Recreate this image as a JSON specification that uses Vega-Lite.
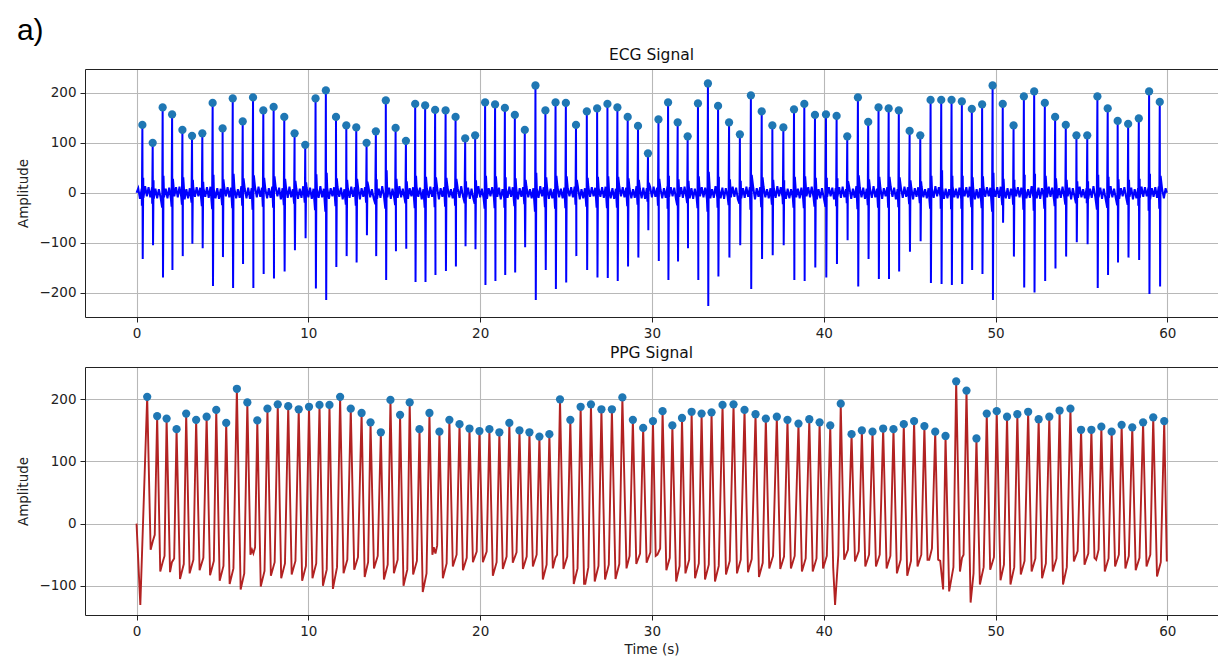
{
"$schema":"https://vega.github.io/schema/vega-lite/v6.json",
"padding":{"left":16,"top":15,"right":0,"bottom":4},
"title":{"text":"a)","anchor":"start","frame":"bounds","font":"Liberation Sans","fontSize":30,"fontWeight":"normal","color":"#000000","offset":2},
"config":{
 "view":{"stroke":null},
 "axis":{"labelFont":"DejaVu Sans","labelFontSize":13.5,"labelColor":"#222222","titleFont":"DejaVu Sans","titleFontSize":13.5,"titleFontWeight":"normal","titleColor":"#222222","tickColor":"#222222","tickSize":5,"tickWidth":1,"domainColor":"#222222","domainWidth":1,"gridColor":"#b8b8b8","gridWidth":1.1,"labelPadding":4},
 "title":{"font":"DejaVu Sans","fontSize":15.5,"fontWeight":"normal","color":"#111111","offset":6}
},
"datasets":{
"ecg":[
{"t":0,"v":0},
{"t":0.31,"v":-26},{"t":0.34,"v":136,"k":1},{"t":0.36,"v":-133},{"t":0.39,"v":30},
{"t":0.91,"v":-22},{"t":0.94,"v":100,"k":1},{"t":0.96,"v":-105},{"t":0.99,"v":25},
{"t":1.49,"v":-30},{"t":1.52,"v":171,"k":1},{"t":1.54,"v":-170},{"t":1.57,"v":34},
{"t":2.04,"v":-28},{"t":2.07,"v":157,"k":1},{"t":2.09,"v":-155},{"t":2.12,"v":28},
{"t":2.64,"v":-24},{"t":2.67,"v":126,"k":1},{"t":2.69,"v":-127},{"t":2.72,"v":31},
{"t":3.2,"v":-20},{"t":3.23,"v":114,"k":1},{"t":3.25,"v":-102},{"t":3.28,"v":26},
{"t":3.8,"v":-27},{"t":3.83,"v":119,"k":1},{"t":3.85,"v":-111},{"t":3.88,"v":22},
{"t":4.4,"v":-33},{"t":4.43,"v":180,"k":1},{"t":4.45,"v":-187},{"t":4.48,"v":36},
{"t":4.98,"v":-25},{"t":5.01,"v":129,"k":1},{"t":5.03,"v":-129},{"t":5.06,"v":27},
{"t":5.57,"v":-31},{"t":5.6,"v":189,"k":1},{"t":5.62,"v":-191},{"t":5.65,"v":38},
{"t":6.15,"v":-26},{"t":6.18,"v":143,"k":1},{"t":6.2,"v":-143},{"t":6.23,"v":29},
{"t":6.75,"v":-34},{"t":6.78,"v":191,"k":1},{"t":6.8,"v":-191},{"t":6.83,"v":35},
{"t":7.35,"v":-28},{"t":7.38,"v":165,"k":1},{"t":7.4,"v":-163},{"t":7.43,"v":30},
{"t":7.95,"v":-30},{"t":7.98,"v":172,"k":1},{"t":8.0,"v":-172},{"t":8.03,"v":33},
{"t":8.57,"v":-25},{"t":8.6,"v":152,"k":1},{"t":8.62,"v":-158},{"t":8.65,"v":28},
{"t":9.17,"v":-22},{"t":9.2,"v":119,"k":1},{"t":9.22,"v":-115},{"t":9.25,"v":24},
{"t":9.79,"v":-20},{"t":9.82,"v":96,"k":1},{"t":9.84,"v":-91},{"t":9.87,"v":21},
{"t":10.39,"v":-35},{"t":10.42,"v":189,"k":1},{"t":10.44,"v":-192},{"t":10.47,"v":37},
{"t":10.99,"v":-38},{"t":11.02,"v":205,"k":1},{"t":11.04,"v":-215},{"t":11.07,"v":40},
{"t":11.58,"v":-27},{"t":11.61,"v":152,"k":1},{"t":11.63,"v":-149},{"t":11.66,"v":29},
{"t":12.18,"v":-24},{"t":12.21,"v":135,"k":1},{"t":12.23,"v":-127},{"t":12.26,"v":26},
{"t":12.76,"v":-26},{"t":12.79,"v":131,"k":1},{"t":12.81,"v":-140},{"t":12.84,"v":28},
{"t":13.36,"v":-20},{"t":13.39,"v":100,"k":1},{"t":13.41,"v":-85},{"t":13.44,"v":22},
{"t":13.9,"v":-23},{"t":13.93,"v":123,"k":1},{"t":13.95,"v":-127},{"t":13.98,"v":27},
{"t":14.48,"v":-32},{"t":14.51,"v":185,"k":1},{"t":14.53,"v":-175},{"t":14.56,"v":45},
{"t":15.05,"v":-25},{"t":15.08,"v":130,"k":1},{"t":15.1,"v":-117},{"t":15.13,"v":28},
{"t":15.65,"v":-21},{"t":15.68,"v":104,"k":1},{"t":15.7,"v":-112},{"t":15.73,"v":23},
{"t":16.19,"v":-31},{"t":16.22,"v":178,"k":1},{"t":16.24,"v":-179},{"t":16.27,"v":34},
{"t":16.77,"v":-30},{"t":16.8,"v":175,"k":1},{"t":16.82,"v":-179},{"t":16.85,"v":32},
{"t":17.35,"v":-29},{"t":17.38,"v":166,"k":1},{"t":17.4,"v":-165},{"t":17.43,"v":31},
{"t":17.96,"v":-28},{"t":17.99,"v":165,"k":1},{"t":18.01,"v":-157},{"t":18.04,"v":30},
{"t":18.54,"v":-26},{"t":18.57,"v":152,"k":1},{"t":18.59,"v":-148},{"t":18.62,"v":28},
{"t":19.1,"v":-21},{"t":19.13,"v":109,"k":1},{"t":19.15,"v":-107},{"t":19.18,"v":23},
{"t":19.68,"v":-22},{"t":19.71,"v":115,"k":1},{"t":19.73,"v":-113},{"t":19.76,"v":25},
{"t":20.26,"v":-32},{"t":20.29,"v":181,"k":1},{"t":20.31,"v":-185},{"t":20.34,"v":34},
{"t":20.84,"v":-31},{"t":20.87,"v":177,"k":1},{"t":20.89,"v":-177},{"t":20.92,"v":33},
{"t":21.41,"v":-30},{"t":21.44,"v":170,"k":1},{"t":21.46,"v":-165},{"t":21.49,"v":31},
{"t":21.99,"v":-27},{"t":22.02,"v":156,"k":1},{"t":22.04,"v":-160},{"t":22.07,"v":29},
{"t":22.57,"v":-23},{"t":22.6,"v":126,"k":1},{"t":22.62,"v":-109},{"t":22.65,"v":26},
{"t":23.19,"v":-38},{"t":23.22,"v":215,"k":1},{"t":23.24,"v":-215},{"t":23.27,"v":40},
{"t":23.77,"v":-29},{"t":23.8,"v":165,"k":1},{"t":23.82,"v":-155},{"t":23.85,"v":31},
{"t":24.36,"v":-32},{"t":24.39,"v":181,"k":1},{"t":24.41,"v":-193},{"t":24.44,"v":34},
{"t":24.96,"v":-31},{"t":24.99,"v":180,"k":1},{"t":25.01,"v":-180},{"t":25.04,"v":33},
{"t":25.55,"v":-24},{"t":25.58,"v":136,"k":1},{"t":25.6,"v":-127},{"t":25.63,"v":26},
{"t":26.18,"v":-28},{"t":26.21,"v":163,"k":1},{"t":26.23,"v":-155},{"t":26.26,"v":30},
{"t":26.78,"v":-30},{"t":26.81,"v":169,"k":1},{"t":26.83,"v":-170},{"t":26.86,"v":32},
{"t":27.38,"v":-31},{"t":27.41,"v":178,"k":1},{"t":27.43,"v":-171},{"t":27.46,"v":33},
{"t":27.96,"v":-30},{"t":27.99,"v":171,"k":1},{"t":28.01,"v":-177},{"t":28.04,"v":32},
{"t":28.56,"v":-27},{"t":28.59,"v":152,"k":1},{"t":28.61,"v":-148},{"t":28.64,"v":29},
{"t":29.16,"v":-24},{"t":29.19,"v":134,"k":1},{"t":29.21,"v":-130},{"t":29.24,"v":26},
{"t":29.74,"v":-18},{"t":29.77,"v":79,"k":1},{"t":29.79,"v":-75},{"t":29.82,"v":20},
{"t":30.35,"v":-26},{"t":30.38,"v":147,"k":1},{"t":30.4,"v":-137},{"t":30.43,"v":28},
{"t":30.91,"v":-32},{"t":30.94,"v":181,"k":1},{"t":30.96,"v":-175},{"t":30.99,"v":34},
{"t":31.47,"v":-25},{"t":31.5,"v":141,"k":1},{"t":31.52,"v":-138},{"t":31.55,"v":27},
{"t":32.05,"v":-21},{"t":32.08,"v":113,"k":1},{"t":32.1,"v":-111},{"t":32.13,"v":24},
{"t":32.65,"v":-31},{"t":32.68,"v":179,"k":1},{"t":32.7,"v":-175},{"t":32.73,"v":33},
{"t":33.23,"v":-38},{"t":33.26,"v":219,"k":1},{"t":33.28,"v":-227},{"t":33.31,"v":42},
{"t":33.82,"v":-30},{"t":33.85,"v":174,"k":1},{"t":33.87,"v":-168},{"t":33.9,"v":32},
{"t":34.46,"v":-25},{"t":34.49,"v":141,"k":1},{"t":34.51,"v":-130},{"t":34.54,"v":27},
{"t":35.09,"v":-22},{"t":35.12,"v":117,"k":1},{"t":35.14,"v":-105},{"t":35.17,"v":24},
{"t":35.73,"v":-34},{"t":35.76,"v":195,"k":1},{"t":35.78,"v":-193},{"t":35.81,"v":36},
{"t":36.36,"v":-29},{"t":36.39,"v":163,"k":1},{"t":36.41,"v":-133},{"t":36.44,"v":31},
{"t":36.98,"v":-24},{"t":37.01,"v":135,"k":1},{"t":37.03,"v":-125},{"t":37.06,"v":26},
{"t":37.62,"v":-23},{"t":37.65,"v":131,"k":1},{"t":37.67,"v":-105},{"t":37.7,"v":25},
{"t":38.24,"v":-30},{"t":38.27,"v":167,"k":1},{"t":38.29,"v":-175},{"t":38.32,"v":32},
{"t":38.84,"v":-31},{"t":38.87,"v":178,"k":1},{"t":38.89,"v":-177},{"t":38.92,"v":33},
{"t":39.46,"v":-28},{"t":39.49,"v":156,"k":1},{"t":39.51,"v":-150},{"t":39.54,"v":30},
{"t":40.1,"v":-28},{"t":40.13,"v":157,"k":1},{"t":40.15,"v":-170},{"t":40.18,"v":30},
{"t":40.72,"v":-27},{"t":40.75,"v":154,"k":1},{"t":40.77,"v":-143},{"t":40.8,"v":29},
{"t":41.34,"v":-21},{"t":41.37,"v":113,"k":1},{"t":41.39,"v":-95},{"t":41.42,"v":23},
{"t":41.96,"v":-33},{"t":41.99,"v":191,"k":1},{"t":42.01,"v":-188},{"t":42.04,"v":35},
{"t":42.56,"v":-25},{"t":42.59,"v":142,"k":1},{"t":42.61,"v":-133},{"t":42.64,"v":27},
{"t":43.16,"v":-30},{"t":43.19,"v":171,"k":1},{"t":43.21,"v":-173},{"t":43.24,"v":32},
{"t":43.75,"v":-30},{"t":43.78,"v":169,"k":1},{"t":43.8,"v":-173},{"t":43.83,"v":32},
{"t":44.34,"v":-29},{"t":44.37,"v":165,"k":1},{"t":44.39,"v":-158},{"t":44.42,"v":31},
{"t":44.97,"v":-23},{"t":45.0,"v":124,"k":1},{"t":45.02,"v":-118},{"t":45.05,"v":25},
{"t":45.59,"v":-21},{"t":45.62,"v":115,"k":1},{"t":45.64,"v":-97},{"t":45.67,"v":23},
{"t":46.19,"v":-32},{"t":46.22,"v":186,"k":1},{"t":46.24,"v":-181},{"t":46.27,"v":34},
{"t":46.81,"v":-32},{"t":46.84,"v":186,"k":1},{"t":46.86,"v":-183},{"t":46.89,"v":45},
{"t":47.41,"v":-33},{"t":47.44,"v":186,"k":1},{"t":47.46,"v":-185},{"t":47.49,"v":34},
{"t":48.01,"v":-32},{"t":48.04,"v":183,"k":1},{"t":48.06,"v":-183},{"t":48.09,"v":34},
{"t":48.59,"v":-29},{"t":48.62,"v":168,"k":1},{"t":48.64,"v":-155},{"t":48.67,"v":31},
{"t":49.19,"v":-31},{"t":49.22,"v":177,"k":1},{"t":49.24,"v":-163},{"t":49.27,"v":33},
{"t":49.8,"v":-38},{"t":49.83,"v":215,"k":1},{"t":49.85,"v":-215},{"t":49.88,"v":40},
{"t":50.39,"v":-25},{"t":50.42,"v":178,"k":1},{"t":50.44,"v":-60},{"t":50.47,"v":28},
{"t":51.02,"v":-24},{"t":51.05,"v":135,"k":1},{"t":51.07,"v":-128},{"t":51.1,"v":26},
{"t":51.62,"v":-34},{"t":51.65,"v":193,"k":1},{"t":51.67,"v":-190},{"t":51.7,"v":36},
{"t":52.22,"v":-36},{"t":52.25,"v":203,"k":1},{"t":52.27,"v":-200},{"t":52.3,"v":38},
{"t":52.84,"v":-32},{"t":52.87,"v":180,"k":1},{"t":52.89,"v":-177},{"t":52.92,"v":34},
{"t":53.44,"v":-27},{"t":53.47,"v":152,"k":1},{"t":53.49,"v":-152},{"t":53.52,"v":29},
{"t":54.06,"v":-24},{"t":54.09,"v":136,"k":1},{"t":54.11,"v":-128},{"t":54.14,"v":26},
{"t":54.68,"v":-21},{"t":54.71,"v":115,"k":1},{"t":54.73,"v":-99},{"t":54.76,"v":23},
{"t":55.31,"v":-21},{"t":55.34,"v":115,"k":1},{"t":55.36,"v":-103},{"t":55.39,"v":23},
{"t":55.9,"v":-34},{"t":55.93,"v":193,"k":1},{"t":55.95,"v":-191},{"t":55.98,"v":36},
{"t":56.5,"v":-30},{"t":56.53,"v":169,"k":1},{"t":56.55,"v":-165},{"t":56.58,"v":32},
{"t":57.08,"v":-25},{"t":57.11,"v":144,"k":1},{"t":57.13,"v":-140},{"t":57.16,"v":27},
{"t":57.69,"v":-24},{"t":57.72,"v":138,"k":1},{"t":57.74,"v":-130},{"t":57.77,"v":26},
{"t":58.31,"v":-26},{"t":58.34,"v":149,"k":1},{"t":58.36,"v":-135},{"t":58.39,"v":28},
{"t":58.91,"v":-36},{"t":58.94,"v":203,"k":1},{"t":58.96,"v":-203},{"t":58.99,"v":38},
{"t":59.53,"v":-32},{"t":59.56,"v":182,"k":1},{"t":59.58,"v":-188},{"t":59.61,"v":34},
{"t":59.97,"v":0},
{"t":0.1,"v":9},{"t":0.2,"v":-12},{"t":0.3,"v":8},{"t":0.4,"v":-10},{"t":0.5,"v":13},{"t":0.6,"v":-7},{"t":0.7,"v":11},{"t":0.8,"v":-9},{"t":0.9,"v":10},{"t":1.0,"v":-12},{"t":1.1,"v":8},{"t":1.2,"v":-11},{"t":1.3,"v":7},{"t":1.4,"v":-10},{"t":1.5,"v":13},{"t":1.6,"v":-9},{"t":1.7,"v":8},{"t":1.8,"v":-11},{"t":1.9,"v":10},{"t":2.0,"v":-12},{"t":2.1,"v":9},{"t":2.2,"v":-7},{"t":2.3,"v":11},{"t":2.4,"v":-9},{"t":2.5,"v":12},{"t":2.6,"v":-8},{"t":2.7,"v":10},{"t":2.8,"v":-13},{"t":2.9,"v":7},{"t":3.0,"v":-11},{"t":3.1,"v":9},{"t":3.2,"v":-10},{"t":3.3,"v":12},{"t":3.4,"v":-8},{"t":3.5,"v":11},{"t":3.6,"v":-7},{"t":3.7,"v":10},{"t":3.8,"v":-13},{"t":3.9,"v":9},{"t":4.0,"v":-8},{"t":4.1,"v":11},{"t":4.2,"v":-10},{"t":4.3,"v":12},{"t":4.4,"v":-9},{"t":4.5,"v":7},{"t":4.6,"v":-11},
{"t":4.7,"v":9},{"t":4.8,"v":-12},{"t":4.9,"v":8},{"t":5.0,"v":-10},{"t":5.1,"v":13},{"t":5.2,"v":-7},{"t":5.3,"v":11},{"t":5.4,"v":-9},{"t":5.5,"v":10},{"t":5.6,"v":-12},{"t":5.7,"v":8},{"t":5.8,"v":-11},{"t":5.9,"v":7},{"t":6.0,"v":-10},{"t":6.1,"v":13},{"t":6.2,"v":-9},{"t":6.3,"v":8},{"t":6.4,"v":-11},{"t":6.5,"v":10},{"t":6.6,"v":-12},{"t":6.7,"v":9},{"t":6.8,"v":-7},{"t":6.9,"v":11},{"t":7.0,"v":-9},{"t":7.1,"v":12},{"t":7.2,"v":-8},{"t":7.3,"v":10},{"t":7.4,"v":-13},{"t":7.5,"v":7},{"t":7.6,"v":-11},{"t":7.7,"v":9},{"t":7.8,"v":-10},{"t":7.9,"v":12},{"t":8.0,"v":-8},{"t":8.1,"v":11},{"t":8.2,"v":-7},{"t":8.3,"v":10},{"t":8.4,"v":-13},{"t":8.5,"v":9},{"t":8.6,"v":-8},{"t":8.7,"v":11},{"t":8.8,"v":-10},{"t":8.9,"v":12},{"t":9.0,"v":-9},{"t":9.1,"v":7},{"t":9.2,"v":-11},
{"t":9.3,"v":9},{"t":9.4,"v":-12},{"t":9.5,"v":8},{"t":9.6,"v":-10},{"t":9.7,"v":13},{"t":9.8,"v":-7},{"t":9.9,"v":11},{"t":10.0,"v":-9},{"t":10.1,"v":10},{"t":10.2,"v":-12},{"t":10.3,"v":8},{"t":10.4,"v":-11},{"t":10.5,"v":7},{"t":10.6,"v":-10},{"t":10.7,"v":13},{"t":10.8,"v":-9},{"t":10.9,"v":8},{"t":11.0,"v":-11},{"t":11.1,"v":10},{"t":11.2,"v":-12},{"t":11.3,"v":9},{"t":11.4,"v":-7},{"t":11.5,"v":11},{"t":11.6,"v":-9},{"t":11.7,"v":12},{"t":11.8,"v":-8},{"t":11.9,"v":10},{"t":12.0,"v":-13},{"t":12.1,"v":7},{"t":12.2,"v":-11},{"t":12.3,"v":9},{"t":12.4,"v":-10},{"t":12.5,"v":12},{"t":12.6,"v":-8},{"t":12.7,"v":11},{"t":12.8,"v":-7},{"t":12.9,"v":10},{"t":13.0,"v":-13},{"t":13.1,"v":9},{"t":13.2,"v":-8},{"t":13.3,"v":11},{"t":13.4,"v":-10},{"t":13.5,"v":12},{"t":13.6,"v":-9},{"t":13.7,"v":7},{"t":13.8,"v":-11},
{"t":13.9,"v":9},{"t":14.0,"v":-12},{"t":14.1,"v":8},{"t":14.2,"v":-10},{"t":14.3,"v":13},{"t":14.4,"v":-7},{"t":14.5,"v":11},{"t":14.6,"v":-9},{"t":14.7,"v":10},{"t":14.8,"v":-12},{"t":14.9,"v":8},{"t":15.0,"v":-11},{"t":15.1,"v":7},{"t":15.2,"v":-10},{"t":15.3,"v":13},{"t":15.4,"v":-9},{"t":15.5,"v":8},{"t":15.6,"v":-11},{"t":15.7,"v":10},{"t":15.8,"v":-12},{"t":15.9,"v":9},{"t":16.0,"v":-7},{"t":16.1,"v":11},{"t":16.2,"v":-9},{"t":16.3,"v":12},{"t":16.4,"v":-8},{"t":16.5,"v":10},{"t":16.6,"v":-13},{"t":16.7,"v":7},{"t":16.8,"v":-11},{"t":16.9,"v":9},{"t":17.0,"v":-10},{"t":17.1,"v":12},{"t":17.2,"v":-8},{"t":17.3,"v":11},{"t":17.4,"v":-7},{"t":17.5,"v":10},{"t":17.6,"v":-13},{"t":17.7,"v":9},{"t":17.8,"v":-8},{"t":17.9,"v":11},{"t":18.0,"v":-10},{"t":18.1,"v":12},{"t":18.2,"v":-9},{"t":18.3,"v":7},{"t":18.4,"v":-11},
{"t":18.5,"v":9},{"t":18.6,"v":-12},{"t":18.7,"v":8},{"t":18.8,"v":-10},{"t":18.9,"v":13},{"t":19.0,"v":-7},{"t":19.1,"v":11},{"t":19.2,"v":-9},{"t":19.3,"v":10},{"t":19.4,"v":-12},{"t":19.5,"v":8},{"t":19.6,"v":-11},{"t":19.7,"v":7},{"t":19.8,"v":-10},{"t":19.9,"v":13},{"t":20.0,"v":-9},{"t":20.1,"v":8},{"t":20.2,"v":-11},{"t":20.3,"v":10},{"t":20.4,"v":-12},{"t":20.5,"v":9},{"t":20.6,"v":-7},{"t":20.7,"v":11},{"t":20.8,"v":-9},{"t":20.9,"v":12},{"t":21.0,"v":-8},{"t":21.1,"v":10},{"t":21.2,"v":-13},{"t":21.3,"v":7},{"t":21.4,"v":-11},{"t":21.5,"v":9},{"t":21.6,"v":-10},{"t":21.7,"v":12},{"t":21.8,"v":-8},{"t":21.9,"v":11},{"t":22.0,"v":-7},{"t":22.1,"v":10},{"t":22.2,"v":-13},{"t":22.3,"v":9},{"t":22.4,"v":-8},{"t":22.5,"v":11},{"t":22.6,"v":-10},{"t":22.7,"v":12},{"t":22.8,"v":-9},{"t":22.9,"v":7},{"t":23.0,"v":-11},
{"t":23.1,"v":9},{"t":23.2,"v":-12},{"t":23.3,"v":8},{"t":23.4,"v":-10},{"t":23.5,"v":13},{"t":23.6,"v":-7},{"t":23.7,"v":11},{"t":23.8,"v":-9},{"t":23.9,"v":10},{"t":24.0,"v":-12},{"t":24.1,"v":8},{"t":24.2,"v":-11},{"t":24.3,"v":7},{"t":24.4,"v":-10},{"t":24.5,"v":13},{"t":24.6,"v":-9},{"t":24.7,"v":8},{"t":24.8,"v":-11},{"t":24.9,"v":10},{"t":25.0,"v":-12},{"t":25.1,"v":9},{"t":25.2,"v":-7},{"t":25.3,"v":11},{"t":25.4,"v":-9},{"t":25.5,"v":12},{"t":25.6,"v":-8},{"t":25.7,"v":10},{"t":25.8,"v":-13},{"t":25.9,"v":7},{"t":26.0,"v":-11},{"t":26.1,"v":9},{"t":26.2,"v":-10},{"t":26.3,"v":12},{"t":26.4,"v":-8},{"t":26.5,"v":11},{"t":26.6,"v":-7},{"t":26.7,"v":10},{"t":26.8,"v":-13},{"t":26.9,"v":9},{"t":27.0,"v":-8},{"t":27.1,"v":11},{"t":27.2,"v":-10},{"t":27.3,"v":12},{"t":27.4,"v":-9},{"t":27.5,"v":7},{"t":27.6,"v":-11},
{"t":27.7,"v":9},{"t":27.8,"v":-12},{"t":27.9,"v":8},{"t":28.0,"v":-10},{"t":28.1,"v":13},{"t":28.2,"v":-7},{"t":28.3,"v":11},{"t":28.4,"v":-9},{"t":28.5,"v":10},{"t":28.6,"v":-12},{"t":28.7,"v":8},{"t":28.8,"v":-11},{"t":28.9,"v":7},{"t":29.0,"v":-10},{"t":29.1,"v":13},{"t":29.2,"v":-9},{"t":29.3,"v":8},{"t":29.4,"v":-11},{"t":29.5,"v":10},{"t":29.6,"v":-12},{"t":29.7,"v":9},{"t":29.8,"v":-7},{"t":29.9,"v":11},{"t":30.0,"v":-9},{"t":30.1,"v":12},{"t":30.2,"v":-8},{"t":30.3,"v":10},{"t":30.4,"v":-13},{"t":30.5,"v":7},{"t":30.6,"v":-11},{"t":30.7,"v":9},{"t":30.8,"v":-10},{"t":30.9,"v":12},{"t":31.0,"v":-8},{"t":31.1,"v":11},{"t":31.2,"v":-7},{"t":31.3,"v":10},{"t":31.4,"v":-13},{"t":31.5,"v":9},{"t":31.6,"v":-8},{"t":31.7,"v":11},{"t":31.8,"v":-10},{"t":31.9,"v":12},{"t":32.0,"v":-9},{"t":32.1,"v":7},{"t":32.2,"v":-11},
{"t":32.3,"v":9},{"t":32.4,"v":-12},{"t":32.5,"v":8},{"t":32.6,"v":-10},{"t":32.7,"v":13},{"t":32.8,"v":-7},{"t":32.9,"v":11},{"t":33.0,"v":-9},{"t":33.1,"v":10},{"t":33.2,"v":-12},{"t":33.3,"v":8},{"t":33.4,"v":-11},{"t":33.5,"v":7},{"t":33.6,"v":-10},{"t":33.7,"v":13},{"t":33.8,"v":-9},{"t":33.9,"v":8},{"t":34.0,"v":-11},{"t":34.1,"v":10},{"t":34.2,"v":-12},{"t":34.3,"v":9},{"t":34.4,"v":-7},{"t":34.5,"v":11},{"t":34.6,"v":-9},{"t":34.7,"v":12},{"t":34.8,"v":-8},{"t":34.9,"v":10},{"t":35.0,"v":-13},{"t":35.1,"v":7},{"t":35.2,"v":-11},{"t":35.3,"v":9},{"t":35.4,"v":-10},{"t":35.5,"v":12},{"t":35.6,"v":-8},{"t":35.7,"v":11},{"t":35.8,"v":-7},{"t":35.9,"v":10},{"t":36.0,"v":-13},{"t":36.1,"v":9},{"t":36.2,"v":-8},{"t":36.3,"v":11},{"t":36.4,"v":-10},{"t":36.5,"v":12},{"t":36.6,"v":-9},{"t":36.7,"v":7},{"t":36.8,"v":-11},
{"t":36.9,"v":9},{"t":37.0,"v":-12},{"t":37.1,"v":8},{"t":37.2,"v":-10},{"t":37.3,"v":13},{"t":37.4,"v":-7},{"t":37.5,"v":11},{"t":37.6,"v":-9},{"t":37.7,"v":10},{"t":37.8,"v":-12},{"t":37.9,"v":8},{"t":38.0,"v":-11},{"t":38.1,"v":7},{"t":38.2,"v":-10},{"t":38.3,"v":13},{"t":38.4,"v":-9},{"t":38.5,"v":8},{"t":38.6,"v":-11},{"t":38.7,"v":10},{"t":38.8,"v":-12},{"t":38.9,"v":9},{"t":39.0,"v":-7},{"t":39.1,"v":11},{"t":39.2,"v":-9},{"t":39.3,"v":12},{"t":39.4,"v":-8},{"t":39.5,"v":10},{"t":39.6,"v":-13},{"t":39.7,"v":7},{"t":39.8,"v":-11},{"t":39.9,"v":9},{"t":40.0,"v":-10},{"t":40.1,"v":12},{"t":40.2,"v":-8},{"t":40.3,"v":11},{"t":40.4,"v":-7},{"t":40.5,"v":10},{"t":40.6,"v":-13},{"t":40.7,"v":9},{"t":40.8,"v":-8},{"t":40.9,"v":11},{"t":41.0,"v":-10},{"t":41.1,"v":12},{"t":41.2,"v":-9},{"t":41.3,"v":7},{"t":41.4,"v":-11},
{"t":41.5,"v":9},{"t":41.6,"v":-12},{"t":41.7,"v":8},{"t":41.8,"v":-10},{"t":41.9,"v":13},{"t":42.0,"v":-7},{"t":42.1,"v":11},{"t":42.2,"v":-9},{"t":42.3,"v":10},{"t":42.4,"v":-12},{"t":42.5,"v":8},{"t":42.6,"v":-11},{"t":42.7,"v":7},{"t":42.8,"v":-10},{"t":42.9,"v":13},{"t":43.0,"v":-9},{"t":43.1,"v":8},{"t":43.2,"v":-11},{"t":43.3,"v":10},{"t":43.4,"v":-12},{"t":43.5,"v":9},{"t":43.6,"v":-7},{"t":43.7,"v":11},{"t":43.8,"v":-9},{"t":43.9,"v":12},{"t":44.0,"v":-8},{"t":44.1,"v":10},{"t":44.2,"v":-13},{"t":44.3,"v":7},{"t":44.4,"v":-11},{"t":44.5,"v":9},{"t":44.6,"v":-10},{"t":44.7,"v":12},{"t":44.8,"v":-8},{"t":44.9,"v":11},{"t":45.0,"v":-7},{"t":45.1,"v":10},{"t":45.2,"v":-13},{"t":45.3,"v":9},{"t":45.4,"v":-8},{"t":45.5,"v":11},{"t":45.6,"v":-10},{"t":45.7,"v":12},{"t":45.8,"v":-9},{"t":45.9,"v":7},{"t":46.0,"v":-11},
{"t":46.1,"v":9},{"t":46.2,"v":-12},{"t":46.3,"v":8},{"t":46.4,"v":-10},{"t":46.5,"v":13},{"t":46.6,"v":-7},{"t":46.7,"v":11},{"t":46.8,"v":-9},{"t":46.9,"v":10},{"t":47.0,"v":-12},{"t":47.1,"v":8},{"t":47.2,"v":-11},{"t":47.3,"v":7},{"t":47.4,"v":-10},{"t":47.5,"v":13},{"t":47.6,"v":-9},{"t":47.7,"v":8},{"t":47.8,"v":-11},{"t":47.9,"v":10},{"t":48.0,"v":-12},{"t":48.1,"v":9},{"t":48.2,"v":-7},{"t":48.3,"v":11},{"t":48.4,"v":-9},{"t":48.5,"v":12},{"t":48.6,"v":-8},{"t":48.7,"v":10},{"t":48.8,"v":-13},{"t":48.9,"v":7},{"t":49.0,"v":-11},{"t":49.1,"v":9},{"t":49.2,"v":-10},{"t":49.3,"v":12},{"t":49.4,"v":-8},{"t":49.5,"v":11},{"t":49.6,"v":-7},{"t":49.7,"v":10},{"t":49.8,"v":-13},{"t":49.9,"v":9},{"t":50.0,"v":-8},{"t":50.1,"v":11},{"t":50.2,"v":-10},{"t":50.3,"v":12},{"t":50.4,"v":-9},{"t":50.5,"v":7},{"t":50.6,"v":-11},
{"t":50.7,"v":9},{"t":50.8,"v":-12},{"t":50.9,"v":8},{"t":51.0,"v":-10},{"t":51.1,"v":13},{"t":51.2,"v":-7},{"t":51.3,"v":11},{"t":51.4,"v":-9},{"t":51.5,"v":10},{"t":51.6,"v":-12},{"t":51.7,"v":8},{"t":51.8,"v":-11},{"t":51.9,"v":7},{"t":52.0,"v":-10},{"t":52.1,"v":13},{"t":52.2,"v":-9},{"t":52.3,"v":8},{"t":52.4,"v":-11},{"t":52.5,"v":10},{"t":52.6,"v":-12},{"t":52.7,"v":9},{"t":52.8,"v":-7},{"t":52.9,"v":11},{"t":53.0,"v":-9},{"t":53.1,"v":12},{"t":53.2,"v":-8},{"t":53.3,"v":10},{"t":53.4,"v":-13},{"t":53.5,"v":7},{"t":53.6,"v":-11},{"t":53.7,"v":9},{"t":53.8,"v":-10},{"t":53.9,"v":12},{"t":54.0,"v":-8},{"t":54.1,"v":11},{"t":54.2,"v":-7},{"t":54.3,"v":10},{"t":54.4,"v":-13},{"t":54.5,"v":9},{"t":54.6,"v":-8},{"t":54.7,"v":11},{"t":54.8,"v":-10},{"t":54.9,"v":12},{"t":55.0,"v":-9},{"t":55.1,"v":7},{"t":55.2,"v":-11},
{"t":55.3,"v":9},{"t":55.4,"v":-12},{"t":55.5,"v":8},{"t":55.6,"v":-10},{"t":55.7,"v":13},{"t":55.8,"v":-7},{"t":55.9,"v":11},{"t":56.0,"v":-9},{"t":56.1,"v":10},{"t":56.2,"v":-12},{"t":56.3,"v":8},{"t":56.4,"v":-11},{"t":56.5,"v":7},{"t":56.6,"v":-10},{"t":56.7,"v":13},{"t":56.8,"v":-9},{"t":56.9,"v":8},{"t":57.0,"v":-11},{"t":57.1,"v":10},{"t":57.2,"v":-12},{"t":57.3,"v":9},{"t":57.4,"v":-7},{"t":57.5,"v":11},{"t":57.6,"v":-9},{"t":57.7,"v":12},{"t":57.8,"v":-8},{"t":57.9,"v":10},{"t":58.0,"v":-13},{"t":58.1,"v":7},{"t":58.2,"v":-11},{"t":58.3,"v":9},{"t":58.4,"v":-10},{"t":58.5,"v":12},{"t":58.6,"v":-8},{"t":58.7,"v":11},{"t":58.8,"v":-7},{"t":58.9,"v":10},{"t":59.0,"v":-13},{"t":59.1,"v":9},{"t":59.2,"v":-8},{"t":59.3,"v":11},{"t":59.4,"v":-10},{"t":59.5,"v":12},{"t":59.6,"v":-9},{"t":59.7,"v":7},{"t":59.8,"v":-11},{"t":59.9,"v":9}
],
"ppg":[
{"t":0,"v":0},{"t":0.22,"v":-131},
{"t":0.62,"v":204,"k":1},{"t":0.82,"v":-42},{"t":0.95,"v":-28},{"t":1.06,"v":-18},
{"t":1.2,"v":173,"k":1},{"t":1.38,"v":-77},{"t":1.52,"v":-62},{"t":1.63,"v":-52},
{"t":1.75,"v":169,"k":1},{"t":1.95,"v":-78},{"t":2.06,"v":-62},{"t":2.19,"v":-56},
{"t":2.33,"v":152,"k":1},{"t":2.53,"v":-89},{"t":2.75,"v":-65},
{"t":2.89,"v":177,"k":1},{"t":3.09,"v":-80},{"t":3.31,"v":-58},
{"t":3.47,"v":167,"k":1},{"t":3.67,"v":-75},{"t":3.89,"v":-55},
{"t":4.08,"v":172,"k":1},{"t":4.28,"v":-83},{"t":4.5,"v":-60},
{"t":4.64,"v":183,"k":1},{"t":4.84,"v":-92},{"t":5.06,"v":-68},
{"t":5.22,"v":162,"k":1},{"t":5.42,"v":-97},{"t":5.64,"v":-72},
{"t":5.84,"v":217,"k":1},{"t":6.06,"v":-106},{"t":6.27,"v":-80},
{"t":6.45,"v":195,"k":1},{"t":6.63,"v":-50},{"t":6.72,"v":-42},{"t":6.8,"v":-48},{"t":6.9,"v":-38},
{"t":7.03,"v":166,"k":1},{"t":7.23,"v":-101},{"t":7.45,"v":-76},
{"t":7.62,"v":185,"k":1},{"t":7.82,"v":-84},{"t":8.04,"v":-62},
{"t":8.22,"v":192,"k":1},{"t":8.42,"v":-88},{"t":8.64,"v":-64},
{"t":8.83,"v":189,"k":1},{"t":9.03,"v":-82},{"t":9.25,"v":-60},
{"t":9.44,"v":184,"k":1},{"t":9.64,"v":-92},{"t":9.86,"v":-68},
{"t":10.04,"v":188,"k":1},{"t":10.24,"v":-88},{"t":10.46,"v":-64},
{"t":10.65,"v":191,"k":1},{"t":10.85,"v":-100},{"t":11.07,"v":-74},
{"t":11.23,"v":191,"k":1},{"t":11.43,"v":-105},{"t":11.67,"v":-70},
{"t":11.85,"v":204,"k":1},{"t":12.05,"v":-80},{"t":12.27,"v":-58},
{"t":12.47,"v":185,"k":1},{"t":12.67,"v":-74},{"t":12.89,"v":-54},
{"t":13.1,"v":178,"k":1},{"t":13.28,"v":-86},{"t":13.48,"v":-62},
{"t":13.62,"v":163,"k":1},{"t":13.82,"v":-72},{"t":14.04,"v":-52},
{"t":14.22,"v":147,"k":1},{"t":14.4,"v":-90},{"t":14.62,"v":-66},
{"t":14.78,"v":199,"k":1},{"t":14.98,"v":-80},{"t":15.2,"v":-58},
{"t":15.34,"v":175,"k":1},{"t":15.54,"v":-100},{"t":15.76,"v":-74},
{"t":15.9,"v":195,"k":1},{"t":16.1,"v":-82},{"t":16.32,"v":-60},
{"t":16.47,"v":152,"k":1},{"t":16.66,"v":-110},{"t":16.88,"v":-80},
{"t":17.05,"v":178,"k":1},{"t":17.22,"v":-50},{"t":17.3,"v":-38},{"t":17.4,"v":-48},{"t":17.5,"v":-35},
{"t":17.63,"v":148,"k":1},{"t":17.83,"v":-88},{"t":18.05,"v":-64},
{"t":18.21,"v":167,"k":1},{"t":18.41,"v":-69},{"t":18.63,"v":-50},
{"t":18.8,"v":160,"k":1},{"t":19.0,"v":-75},{"t":19.22,"v":-55},
{"t":19.38,"v":153,"k":1},{"t":19.58,"v":-62},{"t":19.8,"v":-45},
{"t":19.96,"v":149,"k":1},{"t":20.16,"v":-62},{"t":20.38,"v":-45},
{"t":20.54,"v":152,"k":1},{"t":20.74,"v":-84},{"t":20.96,"v":-62},
{"t":21.12,"v":147,"k":1},{"t":21.32,"v":-73},{"t":21.54,"v":-53},
{"t":21.7,"v":162,"k":1},{"t":21.9,"v":-63},{"t":22.12,"v":-46},
{"t":22.29,"v":150,"k":1},{"t":22.49,"v":-73},{"t":22.71,"v":-53},
{"t":22.87,"v":147,"k":1},{"t":23.07,"v":-69},{"t":23.29,"v":-50},
{"t":23.45,"v":140,"k":1},{"t":23.65,"v":-90},{"t":23.87,"v":-66},
{"t":24.03,"v":144,"k":1},{"t":24.23,"v":-72},{"t":24.38,"v":-55},{"t":24.48,"v":-50},
{"t":24.65,"v":200,"k":1},{"t":24.85,"v":-73},{"t":25.07,"v":-53},
{"t":25.25,"v":167,"k":1},{"t":25.45,"v":-97},{"t":25.67,"v":-72},
{"t":25.85,"v":188,"k":1},{"t":26.05,"v":-97},{"t":26.12,"v":-97},{"t":26.3,"v":-70},
{"t":26.45,"v":192,"k":1},{"t":26.67,"v":-93},{"t":26.89,"v":-68},
{"t":27.06,"v":184,"k":1},{"t":27.27,"v":-90},{"t":27.49,"v":-66},
{"t":27.67,"v":184,"k":1},{"t":27.88,"v":-89},{"t":28.1,"v":-65},
{"t":28.28,"v":203,"k":1},{"t":28.52,"v":-72},{"t":28.7,"v":-52},
{"t":28.89,"v":167,"k":1},{"t":29.09,"v":-65},{"t":29.31,"v":-48},
{"t":29.49,"v":154,"k":1},{"t":29.69,"v":-63},{"t":29.91,"v":-46},
{"t":30.06,"v":165,"k":1},{"t":30.22,"v":-52},{"t":30.32,"v":-50},{"t":30.48,"v":-40},
{"t":30.62,"v":181,"k":1},{"t":30.84,"v":-75},{"t":31.04,"v":-55},
{"t":31.19,"v":158,"k":1},{"t":31.41,"v":-93},{"t":31.61,"v":-68},
{"t":31.75,"v":170,"k":1},{"t":31.95,"v":-80},{"t":32.17,"v":-58},
{"t":32.31,"v":180,"k":1},{"t":32.51,"v":-88},{"t":32.73,"v":-64},
{"t":32.89,"v":177,"k":1},{"t":33.09,"v":-90},{"t":33.31,"v":-66},
{"t":33.47,"v":179,"k":1},{"t":33.67,"v":-93},{"t":33.89,"v":-68},
{"t":34.11,"v":191,"k":1},{"t":34.31,"v":-82},{"t":34.53,"v":-60},
{"t":34.75,"v":192,"k":1},{"t":34.95,"v":-80},{"t":35.17,"v":-58},
{"t":35.39,"v":183,"k":1},{"t":35.59,"v":-78},{"t":35.81,"v":-57},
{"t":36.03,"v":176,"k":1},{"t":36.23,"v":-86},{"t":36.45,"v":-63},
{"t":36.63,"v":169,"k":1},{"t":36.83,"v":-72},{"t":37.05,"v":-52},
{"t":37.27,"v":172,"k":1},{"t":37.47,"v":-73},{"t":37.69,"v":-53},
{"t":37.89,"v":167,"k":1},{"t":38.09,"v":-72},{"t":38.31,"v":-52},
{"t":38.53,"v":161,"k":1},{"t":38.73,"v":-77},{"t":38.95,"v":-56},
{"t":39.16,"v":168,"k":1},{"t":39.36,"v":-77},{"t":39.58,"v":-56},
{"t":39.76,"v":163,"k":1},{"t":39.96,"v":-72},{"t":40.18,"v":-52},
{"t":40.38,"v":158,"k":1},{"t":40.55,"v":-70},{"t":40.66,"v":-131},{"t":40.85,"v":-50},
{"t":40.99,"v":193,"k":1},{"t":41.19,"v":-58},{"t":41.41,"v":-42},
{"t":41.62,"v":144,"k":1},{"t":41.82,"v":-61},{"t":42.04,"v":-44},
{"t":42.22,"v":150,"k":1},{"t":42.42,"v":-69},{"t":42.64,"v":-50},
{"t":42.84,"v":148,"k":1},{"t":43.04,"v":-69},{"t":43.26,"v":-50},
{"t":43.46,"v":153,"k":1},{"t":43.66,"v":-72},{"t":43.88,"v":-52},
{"t":44.06,"v":152,"k":1},{"t":44.26,"v":-80},{"t":44.48,"v":-58},
{"t":44.66,"v":160,"k":1},{"t":44.86,"v":-84},{"t":45.08,"v":-60},
{"t":45.26,"v":165,"k":1},{"t":45.46,"v":-69},{"t":45.68,"v":-50},
{"t":45.86,"v":157,"k":1},{"t":46.04,"v":-58},{"t":46.14,"v":-58},{"t":46.3,"v":-40},
{"t":46.49,"v":148,"k":1},{"t":46.66,"v":-58},{"t":46.78,"v":-60},{"t":46.95,"v":-106},
{"t":47.09,"v":141,"k":1},{"t":47.3,"v":-109},{"t":47.55,"v":-70},
{"t":47.71,"v":229,"k":1},{"t":47.93,"v":-77},{"t":48.05,"v":-55},{"t":48.14,"v":-50},
{"t":48.31,"v":214,"k":1},{"t":48.55,"v":-127},{"t":48.72,"v":-80},
{"t":48.89,"v":137,"k":1},{"t":49.09,"v":-98},{"t":49.31,"v":-70},
{"t":49.49,"v":177,"k":1},{"t":49.69,"v":-74},{"t":49.91,"v":-54},
{"t":50.07,"v":181,"k":1},{"t":50.29,"v":-91},{"t":50.49,"v":-66},
{"t":50.67,"v":172,"k":1},{"t":50.87,"v":-98},{"t":51.09,"v":-70},
{"t":51.27,"v":176,"k":1},{"t":51.47,"v":-82},{"t":51.69,"v":-60},
{"t":51.9,"v":180,"k":1},{"t":52.1,"v":-77},{"t":52.32,"v":-56},
{"t":52.51,"v":168,"k":1},{"t":52.71,"v":-88},{"t":52.93,"v":-64},
{"t":53.13,"v":172,"k":1},{"t":53.33,"v":-77},{"t":53.55,"v":-56},
{"t":53.73,"v":182,"k":1},{"t":53.93,"v":-98},{"t":54.15,"v":-70},
{"t":54.36,"v":185,"k":1},{"t":54.56,"v":-61},{"t":54.78,"v":-44},
{"t":54.98,"v":151,"k":1},{"t":55.18,"v":-66},{"t":55.4,"v":-48},
{"t":55.58,"v":151,"k":1},{"t":55.76,"v":-55},{"t":55.86,"v":-58},{"t":56.0,"v":-42},
{"t":56.16,"v":156,"k":1},{"t":56.36,"v":-77},{"t":56.58,"v":-56},
{"t":56.76,"v":148,"k":1},{"t":56.96,"v":-69},{"t":57.18,"v":-50},
{"t":57.34,"v":159,"k":1},{"t":57.56,"v":-72},{"t":57.76,"v":-52},
{"t":57.96,"v":155,"k":1},{"t":58.16,"v":-75},{"t":58.38,"v":-55},
{"t":58.59,"v":163,"k":1},{"t":58.79,"v":-69},{"t":59.01,"v":-50},
{"t":59.18,"v":171,"k":1},{"t":59.4,"v":-85},{"t":59.62,"v":-62},
{"t":59.82,"v":165,"k":1},{"t":59.97,"v":-61}
]
},
"spacing":50,
"bounds":"flush",
"vconcat":[
{
 "width":1133,"height":248,
 "title":{"text":"ECG Signal"},
 "data":{"name":"ecg"},
 "layer":[
  {"mark":{"type":"line","color":"#0000ff","strokeWidth":2},
   "encoding":{
    "x":{"field":"t","type":"quantitative","scale":{"domain":[-3,62.95],"nice":false,"zero":false},
         "axis":{"orient":"bottom","values":[0,10,20,30,40,50,60],"title":null,"grid":true,"domain":true,"labelFlush":false}},
    "y":{"field":"v","type":"quantitative","scale":{"domain":[-249,248],"nice":false,"zero":false},
         "axis":{"values":[-200,-100,0,100,200],"title":"Amplitude","grid":true,"domain":true,"titlePadding":8}}
   }},
  {"transform":[{"filter":"datum.k == 1"}],
   "mark":{"type":"point","filled":true,"color":"#1f77b4","size":68,"opacity":1,"strokeWidth":0},
   "encoding":{
    "x":{"field":"t","type":"quantitative","axis":{"orient":"top","labels":false,"ticks":false,"grid":false,"domain":true,"title":null}},
    "y":{"field":"v","type":"quantitative"}
   }}
 ],
 "resolve":{"axis":{"x":"independent"}}
},
{
 "width":1133,"height":248,
 "title":{"text":"PPG Signal"},
 "data":{"name":"ppg"},
 "layer":[
  {"mark":{"type":"line","color":"#b22222","strokeWidth":1.9},
   "encoding":{
    "x":{"field":"t","type":"quantitative","scale":{"domain":[-3,62.95],"nice":false,"zero":false},
         "axis":{"orient":"bottom","values":[0,10,20,30,40,50,60],"title":"Time (s)","grid":true,"domain":true,"labelFlush":false,"titlePadding":5}},
    "y":{"field":"v","type":"quantitative","scale":{"domain":[-147,252],"nice":false,"zero":false},
         "axis":{"values":[-100,0,100,200],"title":"Amplitude","grid":true,"domain":true,"titlePadding":8}}
   }},
  {"transform":[{"filter":"datum.k == 1"}],
   "mark":{"type":"point","filled":true,"color":"#1f77b4","size":68,"opacity":1,"strokeWidth":0},
   "encoding":{
    "x":{"field":"t","type":"quantitative","axis":{"orient":"top","labels":false,"ticks":false,"grid":false,"domain":true,"title":null}},
    "y":{"field":"v","type":"quantitative"}
   }}
 ],
 "resolve":{"axis":{"x":"independent"}}
}
]
}
